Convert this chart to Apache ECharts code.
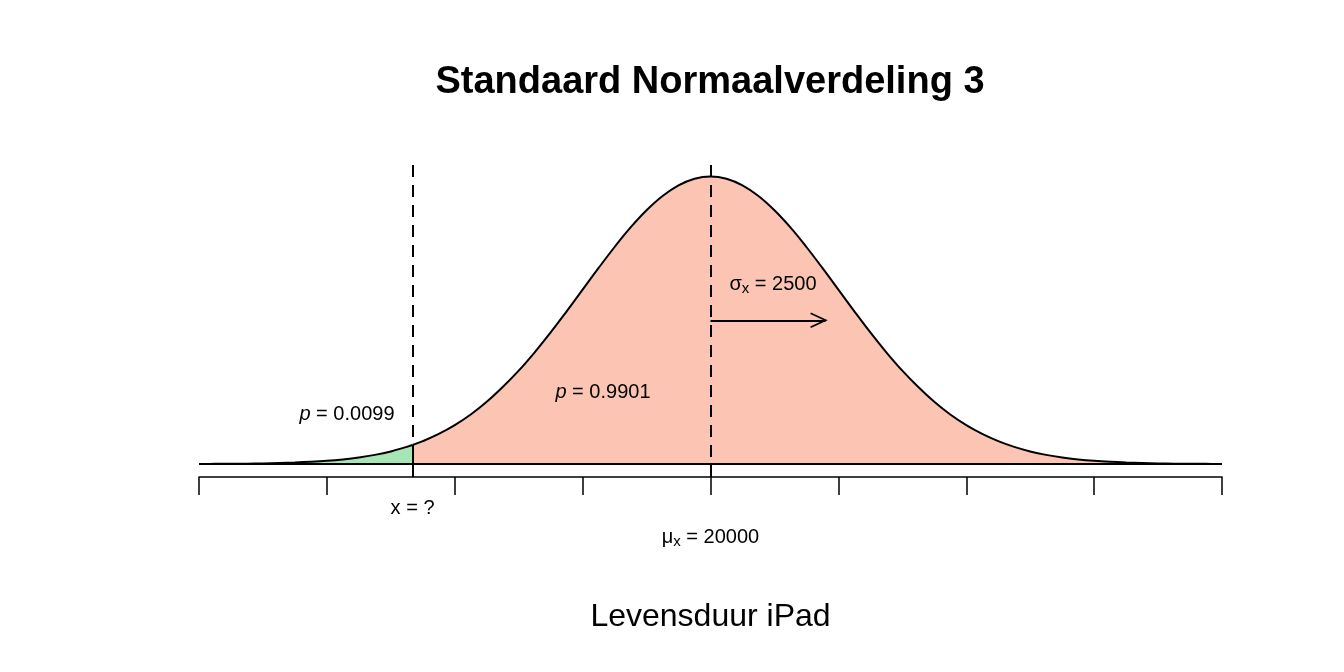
<!DOCTYPE html>
<html>
<head>
<meta charset="utf-8">
<script src="https://cdn.jsdelivr.net/npm/echarts@6/dist/echarts.min.js"></script>
<style>
  html, body { margin: 0; padding: 0; background: #fff; }
  #chart { width: 1344px; height: 672px; }
</style>
</head>
<body>
<div id="chart"></div>
<script>
// x-waarden (levensduur), stappen van 0.125 sd
const xs = [10000, 10312.5, 10625, 10937.5, 11250, 11562.5, 11875, 12187.5, 12500, 12812.5,
  13125, 13437.5, 13750, 14062.5, 14375, 14687.5, 15000, 15312.5, 15625, 15937.5,
  16250, 16562.5, 16875, 17187.5, 17500, 17812.5, 18125, 18437.5, 18750, 19062.5,
  19375, 19687.5, 20000, 20312.5, 20625, 20937.5, 21250, 21562.5, 21875, 22187.5,
  22500, 22812.5, 23125, 23437.5, 23750, 24062.5, 24375, 24687.5, 25000, 25312.5,
  25625, 25937.5, 26250, 26562.5, 26875, 27187.5, 27500, 27812.5, 28125, 28437.5,
  28750, 29062.5, 29375, 29687.5, 30000];
const dens = [0.0003, 0.0006, 0.0009, 0.0014, 0.0022, 0.0034, 0.0051, 0.0076, 0.0111, 0.0161,
  0.0228, 0.0319, 0.0439, 0.0596, 0.0796, 0.1047, 0.1353, 0.1721, 0.2163, 0.2677,
  0.3247, 0.3887, 0.4578, 0.5311, 0.6065, 0.6819, 0.7548, 0.8228, 0.8825, 0.9321,
  0.9692, 0.9922, 1, 0.9922, 0.9692, 0.9321, 0.8825, 0.8228, 0.7548, 0.6819,
  0.6065, 0.5311, 0.4578, 0.3887, 0.3247, 0.2677, 0.2163, 0.1721, 0.1353, 0.1047,
  0.0796, 0.0596, 0.0439, 0.0319, 0.0228, 0.0161, 0.0111, 0.0076, 0.0051, 0.0034,
  0.0022, 0.0014, 0.0009, 0.0006, 0.0003];
// grens x = ?
const xq = 14175;
const dq = 0.066;
const mu = 20000;
const arrowEnd = 22250;
const arrowY = 0.5;

const yMin = -0.0451;
const yMax = 1.04;

const greenData = [];
const redData = [[xq, dq]];
xs.forEach((x, i) => {
  if (x <= xq) greenData.push([x, dens[i]]);
  else redData.push([x, dens[i]]);
});
greenData.push([xq, dq]);

const chart = echarts.init(document.getElementById('chart'));
const font = '"Liberation Sans", Arial, sans-serif';

const option = {
  animation: false,
  title: {
    text: 'Standaard Normaalverdeling 3',
    left: 705, top: 59, textAlign: 'center',
    textStyle: { fontFamily: font, fontSize: 38, fontWeight: 'bold', color: '#000' }
  },
  grid: { left: 199, right: 122, top: 165, bottom: 195 },
  xAxis: {
    type: 'value', min: 10000, max: 30000, interval: 2500,
    name: 'Levensduur iPad', nameLocation: 'middle', nameGap: 124,
    nameTextStyle: { fontFamily: font, fontSize: 32, color: '#000' },
    axisLine: { show: true, onZero: false, lineStyle: { color: '#000', width: 1.5 } },
    axisTick: { show: true, length: 18, lineStyle: { color: '#000', width: 1.5 } },
    axisLabel: { show: false },
    splitLine: { show: false }
  },
  yAxis: {
    type: 'value', min: yMin, max: yMax, show: false, splitLine: { show: false }
  },
  series: [
    {
      type: 'line', data: greenData, smooth: 0.4, symbol: 'none',
      lineStyle: { color: '#000', width: 2 },
      areaStyle: { color: '#a6e6b5', opacity: 1, origin: 0 },
      z: 2
    },
    {
      type: 'line', data: redData, smooth: 0.4, symbol: 'none',
      lineStyle: { color: '#000', width: 2 },
      areaStyle: { color: '#fcc5b3', opacity: 1, origin: 0 },
      z: 2,
      markLine: {
        silent: true, symbol: 'none', label: { show: false },
        lineStyle: { color: '#000', width: 2, type: 'solid' },
        data: [
          [{ coord: [10000, 0] }, { coord: [30000, 0] }],
          [{ coord: [xq, yMin] }, { coord: [xq, dq] }],
          [{ coord: [mu, yMin] }, { coord: [mu, 0] }],
          [{ coord: [xq, yMax], lineStyle: { type: [12, 8] } }, { coord: [xq, dq] }],
          [{ coord: [mu, yMax], lineStyle: { type: [12, 8] } }, { coord: [mu, 0] }],
          [{ coord: [mu, arrowY], lineStyle: { width: 1.8 } }, { coord: [arrowEnd, arrowY] }]
        ]
      }
    }
  ]
};
chart.setOption(option);

function px(x, y) { return chart.convertToPixel({ gridIndex: 0 }, [x, y]); }

const fs = 20;
const rich = {
  it: { fontFamily: font, fontSize: fs, fontStyle: 'italic', color: '#000' },
  n: { fontFamily: font, fontSize: fs, color: '#000' },
  s: { fontFamily: font, fontSize: 15, color: '#000', padding: [9, 0, 0, 0] }
};
function txt(x, y, text) {
  const p = Array.isArray(x) ? x : px(x, y);
  return {
    type: 'text', x: p[0], y: p[1], silent: true, z: 100,
    style: { text: text, rich: rich, fontFamily: font, fontSize: fs, fill: '#000', align: 'center', verticalAlign: 'middle' }
  };
}
const tip = px(arrowEnd, arrowY);
const axisY = px(xq, yMin)[1];
chart.setOption({
  graphic: [
    txt(21222, 0.626, '{n|σ}{s|x}{n| = 2500}'),
    txt(17898, 0.25, '{it|p}{n| = 0.9901}'),
    txt(12893, 0.174, '{it|p}{n| = 0.0099}'),
    txt([px(xq, 0)[0], axisY + 31], null, '{n|x = ?}'),
    txt([px(mu, 0)[0], axisY + 60], null, '{n|μ}{s|x}{n| = 20000}'),
    {
      type: 'polyline', silent: true, z: 100,
      shape: { points: [[tip[0] - 15, tip[1] - 7], tip, [tip[0] - 15, tip[1] + 7]] },
      style: { stroke: '#000', lineWidth: 1.8, fill: null }
    }
  ]
});
</script>
</body>
</html>
